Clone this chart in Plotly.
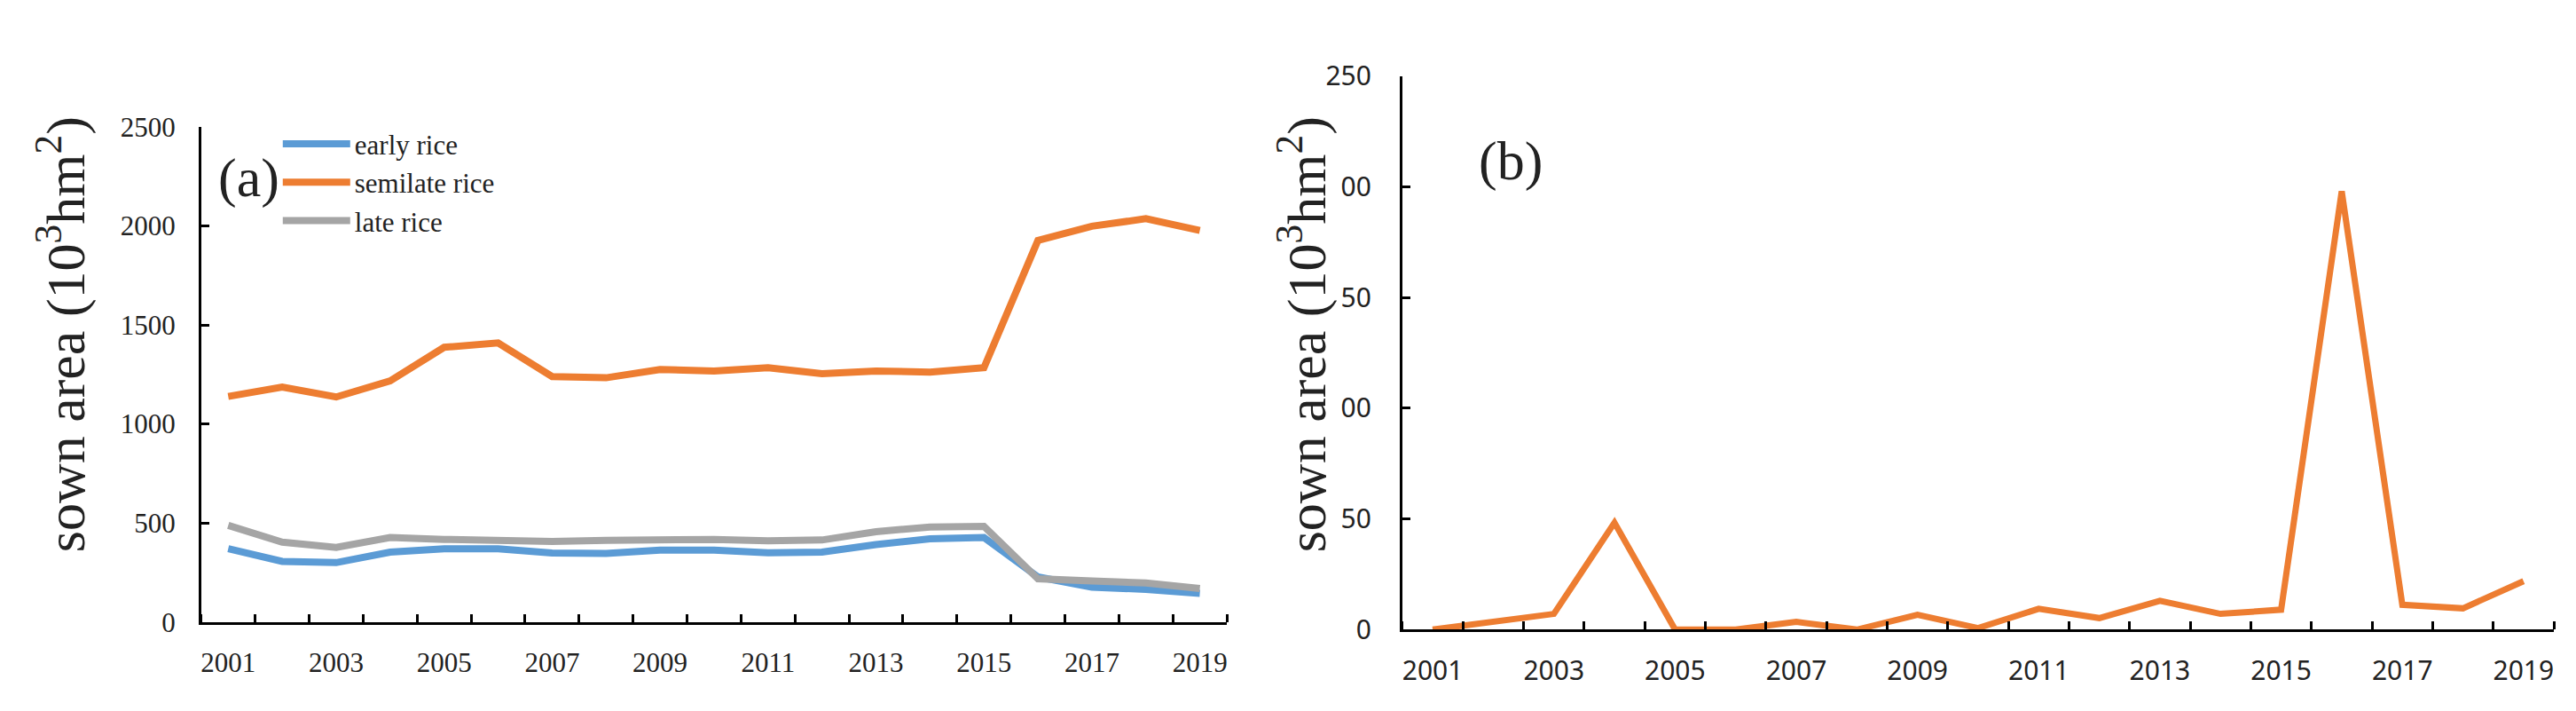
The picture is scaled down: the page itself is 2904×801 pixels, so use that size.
import plotly.graph_objects as go

W, H = 2904, 801

years = list(range(2001, 2020))
early_rice = [370, 306, 300, 353, 370, 370, 349, 346, 363, 363, 350, 353, 391, 420, 427, 228, 176, 165, 145]
semilate_rice = [1139, 1186, 1136, 1217, 1387, 1409, 1239, 1233, 1275, 1267, 1284, 1254, 1267, 1262, 1284, 1926, 1998, 2036, 1977]
late_rice = [488, 403, 377, 427, 417, 412, 407, 412, 417, 417, 410, 414, 456, 480, 483, 218, 207, 197, 169]
semilate_b = [0, 3.3, 7.1, 48.3, 0, 0, 3.5, 0, 6.7, 0.7, 9.4, 5.2, 13, 7.1, 9.0, 198, 11.2, 9.6, 21.9]

x_labels_vals = [y for y in years if y % 2 == 1]
x_labels_text = [str(y) for y in x_labels_vals]
boundaries = [y - 0.5 for y in years] + [years[-1] + 0.5]

ya_ticks = [0, 500, 1000, 1500, 2000, 2500]
ya_text = ["0", "500", "1000", "1500", "2000", "2500"]
yb_ticks = [0, 50, 100, 150, 200, 250]
yb_text = ["0", "50", "00", "50", "00", "250"]

BLUE = "#5B9BD5"
ORANGE = "#ED7D31"
GRAY = "#A5A5A5"
SERIF = "Liberation Serif"
SANS = "Noto Sans"

fig = go.Figure()
fig.add_trace(go.Scatter(x=years, y=early_rice, mode="lines", name="early rice",
                         line=dict(color=BLUE, width=8), xaxis="x", yaxis="y"))
fig.add_trace(go.Scatter(x=years, y=semilate_rice, mode="lines", name="semilate rice",
                         line=dict(color=ORANGE, width=8), xaxis="x", yaxis="y"))
fig.add_trace(go.Scatter(x=years, y=late_rice, mode="lines", name="late rice",
                         line=dict(color=GRAY, width=8), xaxis="x", yaxis="y"))
fig.add_trace(go.Scatter(x=years, y=semilate_b, mode="lines", name="semilate rice (b)",
                         showlegend=False,
                         line=dict(color=ORANGE, width=7), xaxis="x2", yaxis="y2"))

def xaxis_cfg(domain, anchor, font, size, standoff):
    return dict(
        domain=domain, anchor=anchor, range=[2000.5, 2019.5],
        tickmode="array", tickvals=x_labels_vals, ticktext=x_labels_text,
        ticks="", showgrid=False, zeroline=False,
        showline=True, linecolor="black", linewidth=3,
        tickfont=dict(family=font, size=size, color="#222"),
        ticklabelstandoff=standoff,
        minor=dict(tickmode="array", tickvals=boundaries, ticks="inside",
                   ticklen=9, tickwidth=3, tickcolor="black", showgrid=False),
        fixedrange=True,
    )

def yaxis_cfg(domain, anchor, rng, vals, text, font, size, standoff):
    return dict(
        domain=domain, anchor=anchor, range=rng,
        tickmode="array", tickvals=vals, ticktext=text,
        ticks="inside", ticklen=9, tickwidth=3, tickcolor="black",
        showgrid=False, zeroline=False,
        showline=True, linecolor="black", linewidth=3,
        tickfont=dict(family=font, size=size, color="#222"),
        ticklabelstandoff=standoff,
        fixedrange=True,
    )

fig.update_layout(
    width=W, height=H,
    margin=dict(l=0, r=0, t=0, b=0),
    paper_bgcolor="white", plot_bgcolor="white",
    xaxis=xaxis_cfg([218 / W, 1375 / W], "y", SERIF, 31, 16),
    yaxis=yaxis_cfg([(H - 708) / H, (H - 120) / H], "x", [0, 2500], ya_ticks, ya_text, SERIF, 31, 20),
    xaxis2=xaxis_cfg([1573 / W, 2872 / W], "y2", SANS, 30, 18),
    yaxis2=yaxis_cfg([(H - 717) / H, (H - 60) / H], "x2", [0, 250], yb_ticks, yb_text, SANS, 30, 26),
    legend=dict(x=305 / W, y=(H - 112) / H, xanchor="left", yanchor="top",
                font=dict(family=SERIF, size=31, color="#222"),
                bgcolor="rgba(0,0,0,0)", itemwidth=76, tracegroupgap=0),
    annotations=[
        dict(text="sown area (10<sup>3</sup>hm<sup>2</sup>)", textangle=-90,
             x=60 / W, y=(H - 366) / H, xref="paper", yref="paper",
             xanchor="center", yanchor="middle", showarrow=False,
             font=dict(family=SERIF, size=62, color="#222")),
        dict(text="sown area (10<sup>3</sup>hm<sup>2</sup>)", textangle=-90,
             x=1460 / W, y=(H - 366) / H, xref="paper", yref="paper",
             xanchor="center", yanchor="middle", showarrow=False,
             font=dict(family=SERIF, size=62, color="#222")),
        dict(text="(a)", x=272 / W, y=(H - 181) / H, xref="paper", yref="paper",
             xanchor="center", yanchor="middle", showarrow=False,
             font=dict(family=SERIF, size=62, color="#222")),
        dict(text="(b)", x=1695 / W, y=(H - 161) / H, xref="paper", yref="paper",
             xanchor="center", yanchor="middle", showarrow=False,
             font=dict(family=SERIF, size=62, color="#222")),
    ],
)

fig.write_html("out.html")
